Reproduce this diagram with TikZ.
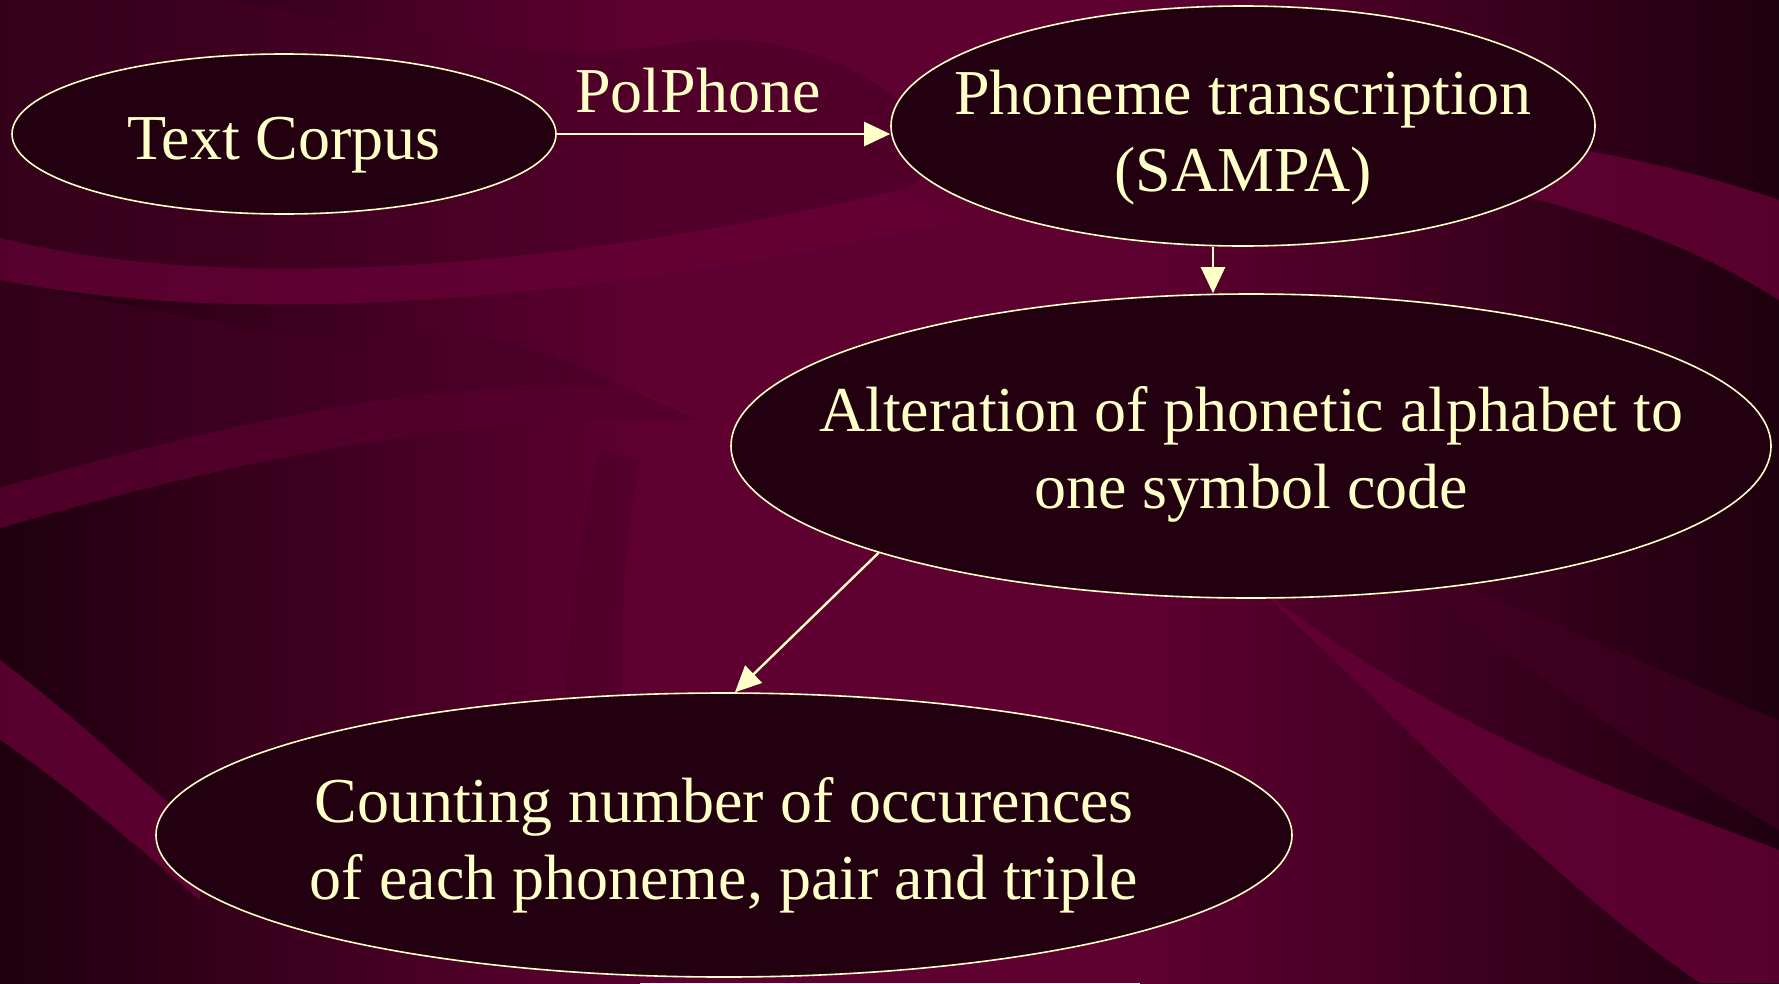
\documentclass[tikz,border=0pt]{standalone}
\usepackage{fontspec}
\setmainfont{Liberation Serif}
\usetikzlibrary{shapes.geometric,arrows.meta}
\definecolor{bgdark}{HTML}{1E000E}
\definecolor{bgmid}{HTML}{5E0030}
\definecolor{bgbright}{HTML}{660036}
\definecolor{bgshadow}{HTML}{460024}
\definecolor{nodefill}{HTML}{220010}
\definecolor{ink}{HTML}{FFFFC8}
\tikzset{
  stage/.style={ellipse, draw=ink, line width=1.6pt, fill=nodefill, inner sep=0pt},
  stagetext/.style={text=ink, inner sep=0pt, align=center, font=\fontsize{64}{77}\selectfont},
  flow/.style={draw=ink, line width=2.4pt, -{Triangle[length=26pt,width=24pt]}},
  lbl/.style={text=ink, font=\fontsize{64}{77}\selectfont}
}
\begin{document}
\begin{tikzpicture}[x=1pt,y=-1pt]
\useasboundingbox (0,0) rectangle (1779,983);
% background gradient
\shade[left color=bgdark, right color=bgmid] (0,0) rectangle (640,983);
\fill[bgmid] (639,0) rectangle (1141,983);
\shade[left color=bgmid, right color=bgdark] (1140,0) rectangle (1779,983);
% bands
\fill[bgshadow, opacity=0.55] (0,0) -- (0,238) .. controls (250,300) and (600,260) .. (900,190) .. controls (1000,150) and (850,30) .. (700,40) .. controls (500,80) and (300,0) .. (200,0) -- cycle;
\fill[bgbright, opacity=0.8] (0,238) .. controls (250,300) and (600,260) .. (900,190) -- (960,220) .. controls (600,300) and (250,330) .. (0,280) -- cycle;
\fill[bgbright, opacity=0.8] (0,488) .. controls (200,430) and (450,370) .. (640,390) -- (700,420) .. controls (450,410) and (200,470) .. (0,528) -- cycle;
\fill[bgshadow, opacity=0.5] (0,280) .. controls (200,320) and (300,340) .. (370,340) .. controls (500,310) and (600,380) .. (700,420) .. controls (450,410) and (200,470) .. (0,528) -- (0,488) -- cycle;
\fill[bgbright, opacity=0.8] (0,660) .. controls (80,720) and (140,780) .. (200,830) -- (200,900) .. controls (130,840) and (60,780) .. (0,740) -- cycle;
\fill[bgbright, opacity=0.8] (1500,140) .. controls (1620,150) and (1720,180) .. (1779,200) -- (1779,300) .. controls (1700,250) and (1620,220) .. (1500,190) -- cycle;
\fill[bgshadow, opacity=0.55] (1400,560) .. controls (1550,620) and (1680,680) .. (1779,720) -- (1779,830) .. controls (1660,760) and (1500,660) .. (1400,560) -- cycle;
\fill[bgbright, opacity=0.8] (1250,580) .. controls (1450,740) and (1650,800) .. (1779,850) -- (1779,983) -- (1700,983) .. controls (1550,880) and (1400,720) .. (1250,580) -- cycle;
\fill[bgshadow, opacity=0.4] (560,983) .. controls (560,800) and (560,600) .. (600,450) -- (640,460) .. controls (610,600) and (620,800) .. (640,983) -- cycle;
% nodes
\node[stage, minimum width=544pt, minimum height=160pt] (tc) at (284,134) {};
\node[stagetext] (tct) at (284,145) {Text Corpus};
\node[stage, minimum width=704pt, minimum height=240pt] (ph) at (1243,126) {};
\node[stagetext] (pht) at (1243,138) {Phoneme transcription\\(SAMPA)};
\node[stage, minimum width=1040pt, minimum height=304pt] (al) at (1251,446) {};
\node[stagetext] (alt) at (1251,454) {Alteration of phonetic alphabet to\\one symbol code};
\node[stage, minimum width=1136pt, minimum height=284pt] (ct) at (724,835) {};
\node[stagetext] (ctt) at (724,845) {Counting number of occurences\\of each phoneme, pair and triple};
% connectors
\draw[flow] (tc.east) -- (tc.east -| ph.west);
\node[lbl] (pp) at (698,91) {PolPhone};
\draw[flow] ([xshift=-30pt]ph.south) -- ([xshift=-30pt]ph.south |- al.north);
\draw[flow] (al.196) -- ([xshift=11pt]ct.north);
\end{tikzpicture}
\end{document}
